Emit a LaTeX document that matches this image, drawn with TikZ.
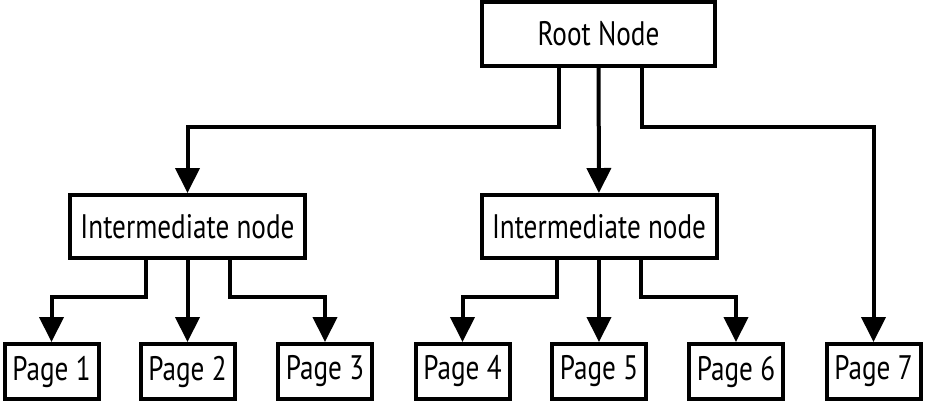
\documentclass[tikz,border=0pt]{standalone}
\usepackage{fontspec}
\setmainfont{PT Sans}[FakeStretch=0.8]
\usepackage{tikz}
\usetikzlibrary{arrows.meta}
\tikzset{
  treebox/.style={draw=black,line width=2pt,fill=white,inner sep=0pt,align=center,text=black},
  rootbox/.style={treebox,minimum width=116.5pt,minimum height=32pt},
  midbox/.style={treebox,minimum width=117.5pt,minimum height=31.5pt},
  pagebox/.style={treebox,minimum width=47pt,minimum height=27.5pt},
  flow/.style={-{Triangle[length=12.5pt,width=12pt]},line width=2pt,draw=black}
}

\begin{document}
\begin{tikzpicture}[x=0.5pt,y=-0.5pt,font=\fontsize{17}{20}\selectfont]
  \useasboundingbox (0,0) rectangle (925,404);
  \node[rootbox] (root) at (598.5,34) {Root Node};
  \node[midbox] (inter1) at (187.5,226.5) {Intermediate node};
  \node[midbox] (inter2) at (599,226.5) {Intermediate node};
  \node[pagebox] (page1) at (51.5,371.5) {Page 1};
  \node[pagebox] (page2) at (187.5,371.5) {Page 2};
  \node[pagebox] (page3) at (325,371.5) {Page 3};
  \node[pagebox] (page4) at (462.5,371.5) {Page 4};
  \node[pagebox] (page5) at (599,371.5) {Page 5};
  \node[pagebox] (page6) at (736,371.5) {Page 6};
  \node[pagebox] (page7) at (873.5,371.5) {Page 7};
  % root to the middle level and page 7
  \draw[flow] ([xshift=-20pt]root.south) -- ++(0,-29.5pt) -| (inter1);
  \draw[flow] (root) -- (inter2);
  \draw[flow] ([xshift=21.5pt]root.south) -- ++(0,-29.5pt) -| (page7);
  % middle level to the pages
  \draw[flow] ([xshift=-21pt]inter1.south) -- ++(0,-18.5pt) -| (page1);
  \draw[flow] (inter1) -- (page2);
  \draw[flow] ([xshift=21pt]inter1.south) -- ++(0,-18.5pt) -| (page3);
  \draw[flow] ([xshift=-21pt]inter2.south) -- ++(0,-18.5pt) -| (page4);
  \draw[flow] (inter2) -- (page5);
  \draw[flow] ([xshift=21pt]inter2.south) -- ++(0,-18.5pt) -| (page6);
\end{tikzpicture}
\end{document}
